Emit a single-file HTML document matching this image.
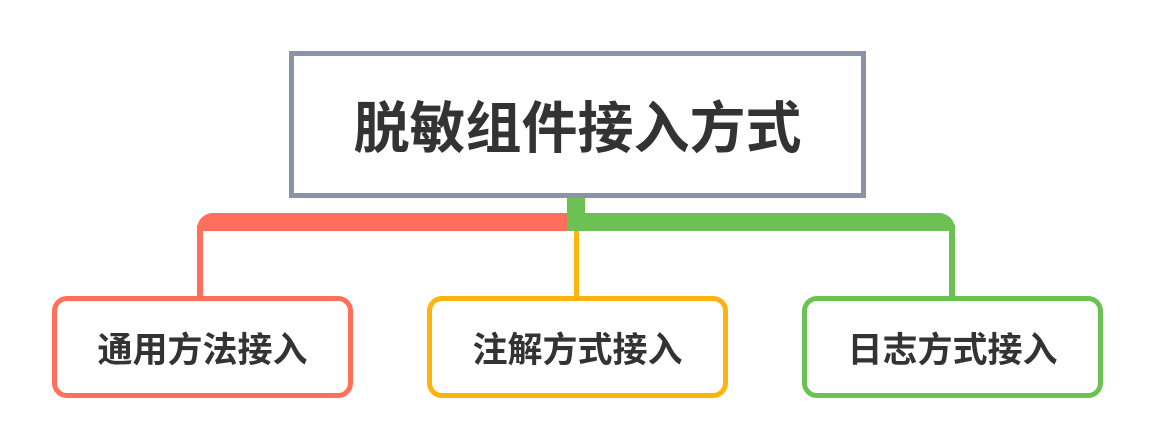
<!DOCTYPE html>
<html><head><meta charset="utf-8"><style>
body{margin:0;width:1152px;height:446px;background:#fff;position:relative;overflow:hidden;font-family:"Liberation Sans","Noto Sans CJK SC",sans-serif;}
.a{position:absolute;box-sizing:border-box;}
.root{left:289px;top:51px;width:577px;height:147px;border:5px solid #8a94a6;display:flex;align-items:center;justify-content:center;font-size:56px;font-weight:bold;color:#333;}
.c{top:296px;width:301px;height:102px;border:5px solid;border-radius:15px;display:flex;align-items:center;justify-content:center;font-size:35px;font-weight:bold;color:#333;background:#fff;}
</style></head><body>
<div class="a" style="left:567px;top:196px;width:18px;height:20px;background:#6cc153"></div>
<div class="a" style="left:197px;top:213px;width:375px;height:18px;background:#ff6f5b;border-top-left-radius:16px"></div>
<div class="a" style="left:567px;top:213px;width:388px;height:18px;background:#6cc153;border-top-right-radius:16px"></div>
<div class="a" style="left:197px;top:225px;width:6px;height:75px;background:#ff6f5b"></div>
<div class="a" style="left:949px;top:225px;width:6px;height:75px;background:#6cc153"></div>
<div class="a" style="left:574px;top:231px;width:5px;height:69px;background:#ffb30f"></div>
<div class="a" style="left:203px;top:231px;width:6px;height:6px;background:#fff;border-top-left-radius:6px"></div>
<div class="a" style="left:943px;top:231px;width:6px;height:6px;background:#fff;border-top-right-radius:6px"></div>
<div class="a root">脱敏组件接入方式</div>
<div class="a c" style="left:52px;border-color:#ff6f5b">通用方法接入</div>
<div class="a c" style="left:427px;border-color:#ffb30f">注解方式接入</div>
<div class="a c" style="left:802px;border-color:#6cc153">日志方式接入</div>
</body></html>
